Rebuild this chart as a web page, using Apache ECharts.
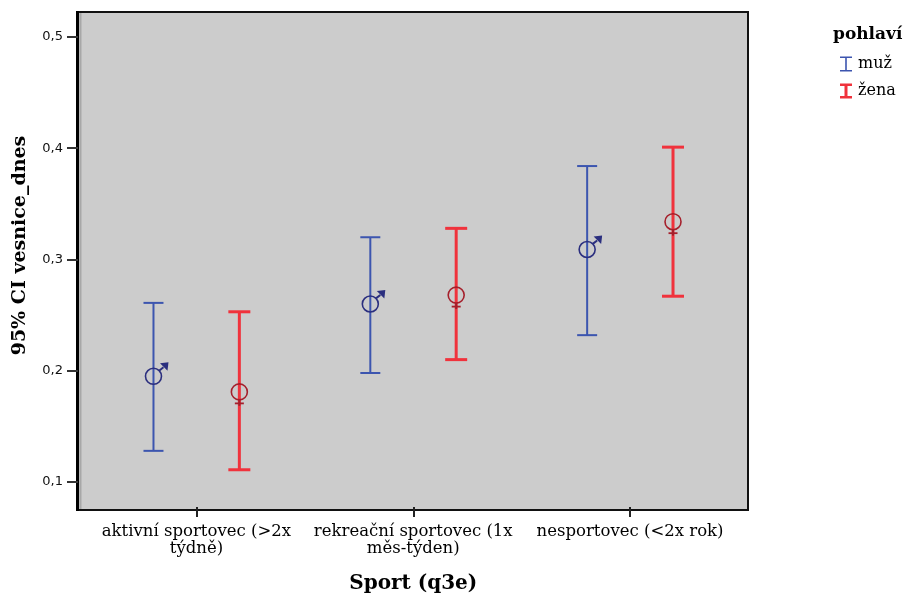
<!DOCTYPE html>
<html>
<head>
<meta charset="utf-8">
<script src="https://cdn.jsdelivr.net/npm/echarts@6/dist/echarts.min.js"></script>
<style>html,body{margin:0;padding:0;background:#fff;}#chart{width:910px;height:599px;}</style>
</head>
<body>
<div id="chart"></div>
<script>
const categories = ['aktivní sportovec (>2x\ntýdně)', 'rekreační sportovec (1x\nměs-týden)', 'nesportovec (<2x rok)'];
const seriesNames = ['muž', 'žena'];
const muzMean = [0.195, 0.260, 0.309];
const muzLow = [0.128, 0.198, 0.232];
const muzHigh = [0.261, 0.320, 0.384];
const zenaMean = [0.181, 0.268, 0.334];
const zenaLow = [0.111, 0.210, 0.267];
const zenaHigh = [0.253, 0.328, 0.401];
const yTicks = [0.1, 0.2, 0.3, 0.4, 0.5];

const BLUE = '#3c55af', NAVY = '#2b2f7f', RED = '#f0323c', DARKRED = '#a51f2b';

function buildData(low, high, mean) {
  return categories.map((c, i) => [i, low[i], high[i], mean[i]]);
}

function makeRender(color, markColor, lineW, capW, kind, sign) {
  return function (params, api) {
    const i = api.value(0);
    const band = api.size([1, 0])[0];
    const dx = sign * band * 0.198;
    const pm = api.coord([i, api.value(3)]);
    const pl = api.coord([i, api.value(1)]);
    const ph = api.coord([i, api.value(2)]);
    const x = pm[0] + dx, y = pm[1];
    const ls = { stroke: color, lineWidth: lineW };
    const children = [
      { type: 'line', shape: { x1: x, y1: pl[1], x2: x, y2: ph[1] }, style: ls },
      { type: 'line', shape: { x1: x - capW / 2, y1: ph[1], x2: x + capW / 2, y2: ph[1] }, style: ls },
      { type: 'line', shape: { x1: x - capW / 2, y1: pl[1], x2: x + capW / 2, y2: pl[1] }, style: ls },
      { type: 'circle', shape: { cx: x, cy: y, r: 8 }, style: { fill: 'none', stroke: markColor, lineWidth: 1.6 } }
    ];
    if (kind === 'male') {
      children.push({ type: 'line', shape: { x1: x + 5.6, y1: y - 5.6, x2: x + 10, y2: y - 9 }, style: { stroke: markColor, lineWidth: 2 } });
      children.push({ type: 'polygon', shape: { points: [[x + 15, y - 14], [x + 6.5, y - 13], [x + 14, y - 5.5]] }, style: { fill: markColor } });
    } else {
      children.push({ type: 'line', shape: { x1: x, y1: y + 8, x2: x, y2: y + 14 }, style: { stroke: markColor, lineWidth: 2 } });
      children.push({ type: 'line', shape: { x1: x - 4.5, y1: y + 11.5, x2: x + 4.5, y2: y + 11.5 }, style: { stroke: markColor, lineWidth: 1.8 } });
    }
    return { type: 'group', children: children };
  };
}

const chart = echarts.init(document.getElementById('chart'), null, { renderer: 'canvas' });
chart.setOption({
  animation: false,
  backgroundColor: '#ffffff',
  title: {
    text: 'pohlaví', left: 833, top: 26, padding: 0,
    textStyle: { fontFamily: 'DejaVu Serif', fontWeight: 'bold', fontSize: 17, color: '#000' }
  },
  legend: {
    orient: 'vertical', left: 840, top: 56, padding: 0, itemWidth: 14, itemHeight: 15, itemGap: 11,
    textStyle: { fontFamily: 'DejaVu Serif', fontSize: 16, color: '#000' },
    data: [
      { name: seriesNames[0], icon: 'path://M0,0H12V1.6H6.8V13.4H12V15H0V13.4H5.2V1.6H0Z' },
      { name: seriesNames[1], icon: 'path://M0,0H12V2.6H7.5V12.4H12V15H0V12.4H4.5V2.6H0Z' }
    ]
  },
  graphic: [
    { type: 'rect', z: 0, shape: { x: 78, y: 12, width: 670, height: 498 }, style: { fill: '#cccccc', stroke: '#111', lineWidth: 2 } },
    { type: 'line', z: 0, shape: { x1: 80.5, y1: 13, x2: 80.5, y2: 509 }, style: { stroke: '#a8a8a8', lineWidth: 2 } },
    { type: 'line', z: 0, shape: { x1: 77.5, y1: 11, x2: 77.5, y2: 511 }, style: { stroke: '#000', lineWidth: 3 } }
  ],
  grid: { left: 88, right: 171.5, top: 37, bottom: 114 },
  xAxis: {
    type: 'category', data: categories, offset: 25,
    name: 'Sport (q3e)', nameLocation: 'middle', nameGap: 67,
    nameTextStyle: { fontFamily: 'DejaVu Serif', fontWeight: 'bold', fontSize: 20, color: '#000' },
    axisLine: { show: false },
    axisTick: { show: true, alignWithLabel: true, length: 10, lineStyle: { color: '#222', width: 2 } },
    axisLabel: { interval: 0, margin: 16, fontFamily: 'DejaVu Serif', fontSize: 16.5, lineHeight: 17, color: '#000' },
    splitLine: { show: false }
  },
  yAxis: {
    type: 'value', min: yTicks[0], max: yTicks[yTicks.length - 1], interval: 0.1, offset: 10,
    name: '95% CI vesnice_dnes', nameLocation: 'middle', nameGap: 48,
    nameTextStyle: { fontFamily: 'DejaVu Serif', fontWeight: 'bold', fontSize: 19, color: '#000', padding: [0, 0, 0, 28] },
    axisLine: { show: false },
    axisTick: { show: true, length: 11, lineStyle: { color: '#333', width: 2 } },
    axisLabel: { margin: 15, fontFamily: 'DejaVu Sans', fontSize: 13, color: '#111', formatter: v => v.toFixed(1).replace('.', ',') },
    splitLine: { show: false }
  },
  series: [
    {
      name: seriesNames[0], type: 'custom', itemStyle: { color: BLUE },
      renderItem: makeRender(BLUE, NAVY, 2, 20, 'male', -1),
      encode: { x: 0, y: [1, 2, 3] },
      data: buildData(muzLow, muzHigh, muzMean), z: 5
    },
    {
      name: seriesNames[1], type: 'custom', itemStyle: { color: RED },
      renderItem: makeRender(RED, DARKRED, 3, 22, 'female', 1),
      encode: { x: 0, y: [1, 2, 3] },
      data: buildData(zenaLow, zenaHigh, zenaMean), z: 5
    }
  ]
});
</script>
</body>
</html>
